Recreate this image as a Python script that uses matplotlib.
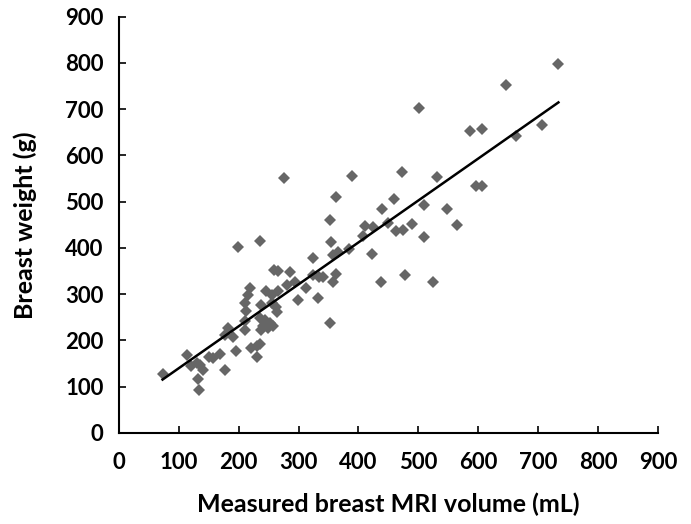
import numpy as np
import matplotlib.pyplot as plt

plt.rcParams['font.family'] = ['Lato', 'DejaVu Sans']

# measured MRI volume (mL) and breast weight (g)
volume = [73, 113, 121, 130, 135, 141, 132, 133, 151, 157, 169, 178, 196, 182, 191, 177,
          210, 210, 221, 230, 235, 231,
          199, 236, 259, 265, 286, 324, 325, 294, 280, 313, 219, 216, 246, 255, 266, 299,
          210, 238, 255, 263, 213, 264, 333, 235, 244, 241, 252, 238, 249, 258, 275,
          335, 341, 362, 358, 353, 389, 362, 353, 411, 425, 450, 355, 366, 358, 384, 423, 408,
          437, 477, 524, 440, 459, 510, 548, 463, 474, 490, 510, 472, 531, 501, 586, 607,
          707, 663, 646, 734, 565, 596, 606]
weight = [127, 169, 145, 151, 147, 136, 116, 93, 165, 162, 171, 136, 178, 227, 208, 212,
          223, 241, 183, 188, 193, 165,
          403, 414, 353, 349, 348, 378, 342, 327, 319, 313, 313, 299, 306, 299, 306, 288,
          281, 277, 281, 273, 263, 262, 291, 248, 245, 230, 237, 223, 227, 230, 552,
          338, 338, 344, 327, 237, 556, 511, 461, 447, 445, 454, 413, 392, 385, 398, 386, 426,
          327, 341, 327, 484, 506, 492, 484, 436, 439, 452, 424, 565, 553, 703, 653, 658,
          666, 641, 752, 798, 450, 535, 535]

# regression line
slope = 0.907
intercept = 49

ticks = np.arange(0, 1000, 100)

fig = plt.figure(figsize=(6.91, 5.24), dpi=100)
ax = fig.add_axes([0.172, 0.174, 0.78, 0.794])

ax.plot(volume, weight, 'D', color='#666666', ms=6.5, mew=0, zorder=2)
xl = np.array([min(volume), max(volume)])
ax.plot(xl, slope * xl + intercept, color='black', lw=1.8, zorder=3)

ax.set_xlim(0, 900)
ax.set_ylim(0, 900)
ax.set_xticks(ticks)
ax.set_yticks(ticks)
for s in ['top', 'right']:
    ax.spines[s].set_visible(False)
for s in ['left', 'bottom']:
    ax.spines[s].set_linewidth(1.5)
ax.tick_params(direction='in', length=5, width=1.2, labelsize=16)
ax.tick_params(axis='x', pad=14)
ax.tick_params(axis='y', pad=11)
for lab in ax.get_xticklabels() + ax.get_yticklabels():
    lab.set_fontweight('bold')

ax.set_xlabel('Measured breast MRI volume (mL)', fontsize=18, fontweight='bold', labelpad=14)
ax.set_ylabel('Breast weight (g)', fontsize=18, fontweight='bold', labelpad=20)

plt.savefig('out.png', dpi=100)
